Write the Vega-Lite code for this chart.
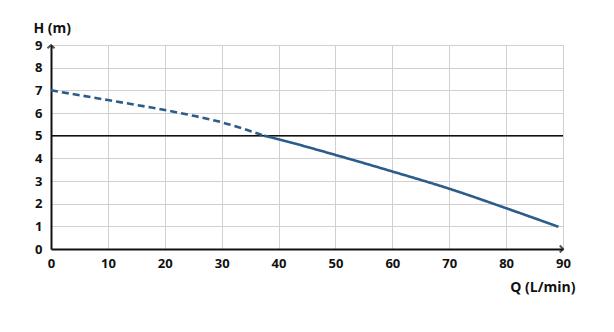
{
  "$schema": "https://vega.github.io/schema/vega-lite/v6.json",
  "width": 512,
  "height": 204,
  "autosize": {"type": "none"},
  "padding": {"left": 51, "top": 45, "right": 51, "bottom": 83},
  "background": "white",
  "config": {
    "view": {"stroke": "#d0d0d0", "strokeWidth": 1},
    "font": "Open Sans"
  },
  "datasets": {
    "curve": [
      {"Q": 0, "H": 7.0, "seg": "dashed"},
      {"Q": 10, "H": 6.57, "seg": "dashed"},
      {"Q": 20, "H": 6.13, "seg": "dashed"},
      {"Q": 25, "H": 5.88, "seg": "dashed"},
      {"Q": 30, "H": 5.59, "seg": "dashed"},
      {"Q": 37.4, "H": 5.0, "seg": "dashed"},
      {"Q": 37.4, "H": 5.0, "seg": "solid"},
      {"Q": 40, "H": 4.84, "seg": "solid"},
      {"Q": 50, "H": 4.15, "seg": "solid"},
      {"Q": 60, "H": 3.42, "seg": "solid"},
      {"Q": 70, "H": 2.66, "seg": "solid"},
      {"Q": 80, "H": 1.8, "seg": "solid"},
      {"Q": 89.2, "H": 0.98, "seg": "solid"}
    ],
    "ref": [{"H": 5}],
    "arrows": [
      {"Q": 0, "H": 9, "dir": "up"},
      {"Q": 90, "H": 0, "dir": "right"}
    ]
  },
  "encoding": {
    "x": {
      "field": "Q", "type": "quantitative",
      "scale": {"domain": [0, 90], "nice": false},
      "axis": {
        "values": [0, 10, 20, 30, 40, 50, 60, 70, 80, 90],
        "grid": true, "gridColor": "#d0d0d0", "gridWidth": 1,
        "domainColor": "#111", "domainWidth": 2,
        "ticks": false,
        "labelFont": "Open Sans", "labelFontWeight": "bold", "labelFontSize": 13, "labelColor": "#111",
        "labelPadding": 8, "labelFlush": false, "labelOverlap": false,
        "title": "Q (L/min)", "titleFont": "Open Sans", "titleFontWeight": "bold", "titleFontSize": 14, "titleColor": "#111",
        "titleAnchor": "end", "titleAlign": "right", "titleX": 524, "titleY": 38, "titleBaseline": "middle"
      }
    },
    "y": {
      "field": "H", "type": "quantitative",
      "scale": {"domain": [0, 9], "nice": false},
      "axis": {
        "values": [0, 1, 2, 3, 4, 5, 6, 7, 8, 9],
        "grid": true, "gridColor": "#d0d0d0", "gridWidth": 1,
        "domainColor": "#111", "domainWidth": 2,
        "ticks": false,
        "labelFont": "Open Sans", "labelFontWeight": "bold", "labelFontSize": 13, "labelColor": "#111",
        "labelPadding": 9, "labelFlush": false, "labelOverlap": false,
        "title": "H (m)", "titleFont": "Open Sans", "titleFontWeight": "bold", "titleFontSize": 14, "titleColor": "#111",
        "titleAngle": 0, "titleAlign": "left", "titleX": -18, "titleY": -17, "titleBaseline": "middle"
      }
    }
  },
  "layer": [
    {
      "data": {"name": "ref"},
      "mark": {"type": "rule", "color": "#111", "strokeWidth": 1.5},
      "encoding": {"x": {"value": 0}, "x2": {"value": 512}}
    },
    {
      "data": {"name": "curve"},
      "mark": {"type": "line", "color": "#2c5d8a", "strokeWidth": 2.6, "clip": false, "interpolate": "monotone"},
      "encoding": {
        "detail": {"field": "seg"},
        "strokeDash": {
          "field": "seg", "type": "nominal",
          "scale": {"domain": ["dashed", "solid"], "range": [[7, 4], [1, 0]]},
          "legend": null
        }
      }
    },
    {
      "data": {"name": "arrows"},
      "transform": [{"filter": "datum.dir === 'up'"}],
      "mark": {"type": "point", "shape": "M-1,0.9L0,0L1,0.9", "size": 50, "filled": false, "stroke": "#111", "strokeWidth": 2, "clip": false}
    },
    {
      "data": {"name": "arrows"},
      "transform": [{"filter": "datum.dir === 'right'"}],
      "mark": {"type": "point", "shape": "M-0.9,-1L0,0L-0.9,1", "size": 50, "filled": false, "stroke": "#111", "strokeWidth": 2, "clip": false}
    }
  ]
}
